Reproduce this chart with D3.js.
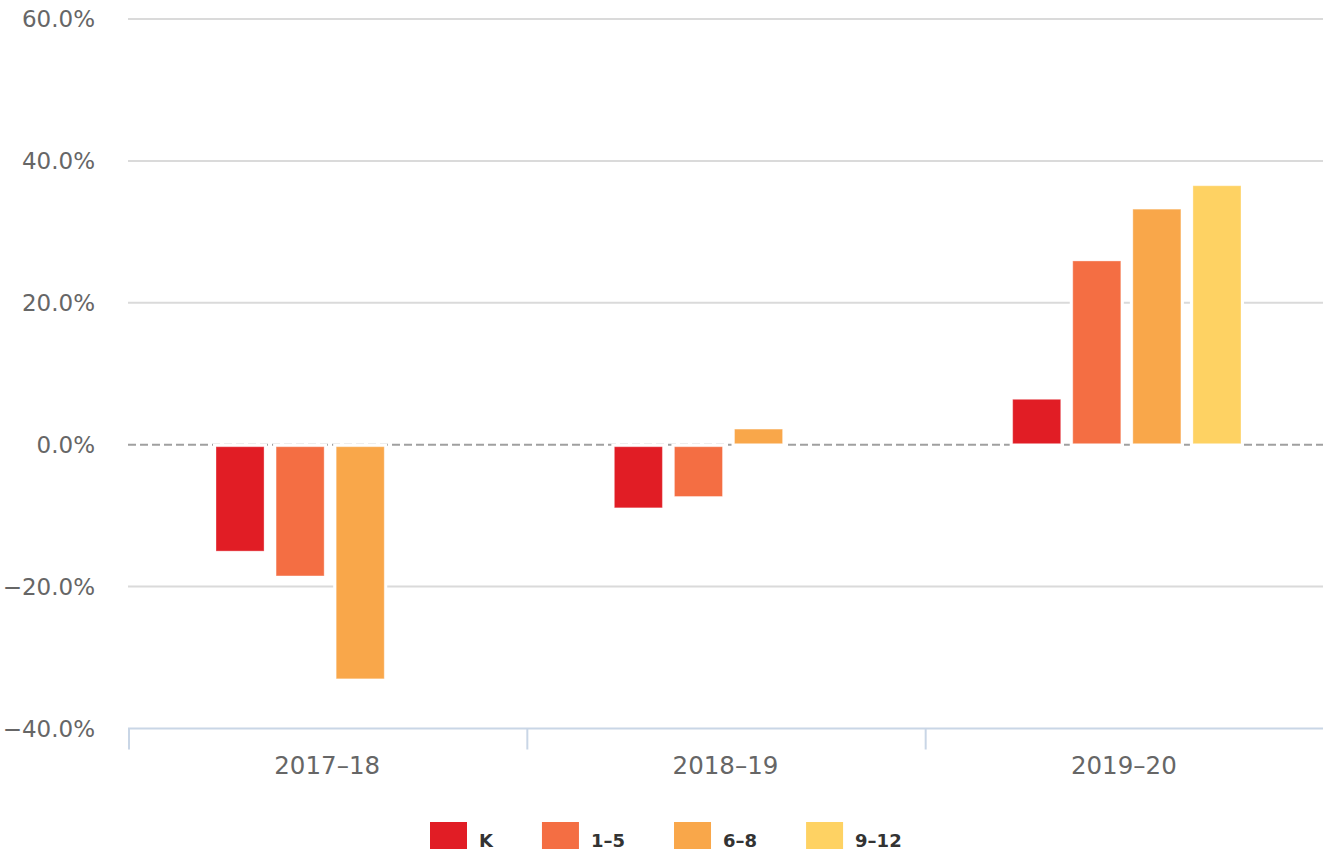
<!DOCTYPE html>
<html>
<head>
<meta charset="utf-8">
<script src="https://cdn.jsdelivr.net/npm/d3@7"></script>
<style>
  body { margin: 0; background: #fff; }
  svg { display: block; font-family: "DejaVu Sans", sans-serif; }
</style>
</head>
<body>
<svg id="chart" width="1323" height="850"></svg>
<script>
// data (percent change)
const years = ["2017–18", "2018–19", "2019–20"];
const grades = ["K", "1–5", "6–8", "9–12"];
const valuesK = [-15.0, -8.9, 6.4];
const values1to5 = [-18.5, -7.3, 25.9];
const values6to8 = [-33.0, 2.2, 33.2];
const values9to12 = [null, null, 36.5];
const yTicks = [-40, -20, 0, 20, 40, 60];
const colors = ["#e11d25", "#f46e43", "#f9a74a", "#fed263"];

const seriesValues = [valuesK, values1to5, values6to8, values9to12];

let plotLeft = 128, plotRight = 1323, plotTop = 19, plotBottom = 728.5;

const svg = d3.select("#chart");

// scales
const y = d3.scaleLinear().domain([-40, 60]).range([plotBottom, plotTop]);
const x0 = d3.scaleBand().domain(years).range([plotLeft, plotRight]);
const x1 = d3.scaleBand()
    .domain(grades)
    .range([88, x0.bandwidth() - 82])
    .paddingInner(0.2);
const color = d3.scaleOrdinal().domain(grades).range(colors);

// grid lines
svg.append("g")
  .selectAll("line")
  .data(yTicks.filter(t => t !== 0 && t !== -40))
  .enter()
  .append("line")
    .attr("x1", plotLeft)
    .attr("x2", plotRight)
    .attr("y1", d => y(d))
    .attr("y2", d => y(d))
    .attr("stroke", "#dadada")
    .attr("stroke-width", 2);

// zero line (dashed)
svg.append("line")
  .attr("x1", plotLeft)
  .attr("x2", plotRight)
  .attr("y1", y(0))
  .attr("y2", y(0))
  .attr("stroke", "#a0a0a0")
  .attr("stroke-width", 2)
  .attr("stroke-dasharray", "8,4");

// y axis labels
svg.append("g")
  .selectAll("text")
  .data(yTicks)
  .enter()
  .append("text")
    .attr("x", 95)
    .attr("y", d => y(d))
    .attr("dy", "0.36em")
    .attr("text-anchor", "end")
    .attr("font-size", 23)
    .attr("fill", "#666")
    .text(d => (d < 0 ? "−" : "") + Math.abs(d).toFixed(1) + "%");

// x axis line + labels
const xAxis = d3.axisBottom(x0).tickSize(0).tickPadding(0);
svg.append("g")
  .attr("transform", `translate(0, ${plotBottom})`)
  .call(xAxis)
  .call(g => g.select(".domain")
      .attr("d", `M${plotLeft},0H${plotRight}`)
      .attr("stroke", "#c9d6e6")
      .attr("stroke-width", 2))
  .call(g => g.selectAll(".tick text")
      .attr("y", 45)
      .attr("dy", 0)
      .attr("font-size", 24.5)
      .attr("font-family", "DejaVu Sans, sans-serif")
      .attr("fill", "#666"));

// tick marks at category boundaries
svg.append("g")
  .selectAll("line")
  .data(years)
  .enter()
  .append("line")
    .attr("x1", d => x0(d) + 1)
    .attr("x2", d => x0(d) + 1)
    .attr("y1", plotBottom)
    .attr("y2", plotBottom + 21)
    .attr("stroke", "#c9d6e6")
    .attr("stroke-width", 2);

// bars
let barData = [];
years.forEach(function (yr, i) {
  grades.forEach(function (g, j) {
    let v = seriesValues[j][i];
    if (v === null) return;
    barData.push({ year: yr, grade: g, value: v });
  });
});

function barY(d) {
  return d.value >= 0 ? y(d.value) : y(0) + 2;
}
function barH(d) {
  return d.value >= 0 ? y(0) - 1 - y(d.value) : y(d.value) - y(0) - 2;
}

const bars = svg.append("g")
  .selectAll("g")
  .data(barData)
  .enter()
  .append("g")
    .attr("transform", d => `translate(${x0(d.year) + x1(d.grade)}, 0)`);

// white halo around each bar
bars.append("rect")
  .attr("x", -3)
  .attr("y", d => barY(d) - 3)
  .attr("width", x1.bandwidth() + 6)
  .attr("height", d => barH(d) + 6)
  .attr("fill", "#fff");

bars.append("rect")
  .attr("x", 0)
  .attr("y", d => barY(d))
  .attr("width", x1.bandwidth())
  .attr("height", d => barH(d))
  .attr("fill", d => color(d.grade))
  .attr("stroke", "rgba(255,255,255,0.35)")
  .attr("stroke-width", 1);

// legend
const legend = svg.append("g");
let lx = 430;
grades.forEach(function (g) {
  legend.append("rect")
    .attr("x", lx)
    .attr("y", 822)
    .attr("width", 37)
    .attr("height", 27)
    .attr("fill", color(g));
  let t = legend.append("text")
    .attr("x", lx + 49)
    .attr("y", 847)
    .attr("font-size", 18)
    .attr("font-weight", "bold")
    .attr("fill", "#333")
    .text(g);
  lx = lx + 49 + t.node().getComputedTextLength() + 49;
});
</script>
</body>
</html>
